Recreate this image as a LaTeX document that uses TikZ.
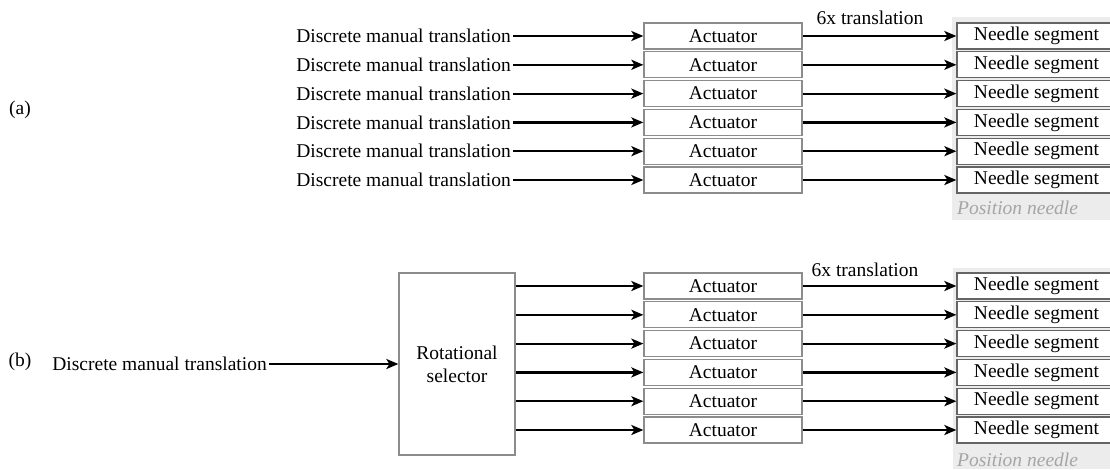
\documentclass[tikz,border=0pt]{standalone}
\usepackage{fontspec}
\setmainfont{Liberation Serif}
\usetikzlibrary{arrows.meta}
\definecolor{boxgrey}{RGB}{140,140,140}
\definecolor{needlegrey}{RGB}{100,100,100}
\definecolor{contfill}{RGB}{236,236,236}
\definecolor{postext}{RGB}{165,165,165}
\begin{document}
\begin{tikzpicture}[x=1pt,y=-1pt,
  txt/.style={font=\fontsize{19.5}{22}\selectfont, inner sep=2pt},
  actbox/.style={draw=boxgrey, line width=1.3pt, fill=white, minimum width=158pt,
    minimum height=26pt, inner sep=0pt, font=\fontsize{19.5}{22}\selectfont},
  needlebox/.style={draw=needlegrey, line width=1.3pt, fill=white, minimum width=159pt,
    minimum height=26pt, inner sep=0pt, font=\fontsize{19.5}{22}\selectfont},
  selbox/.style={draw=boxgrey, line width=1.3pt, fill=white, minimum width=116pt,
    minimum height=182pt, inner sep=0pt, align=center, font=\fontsize{19.5}{23}\selectfont},
  cont/.style={fill=contfill, draw=none},
  postxt/.style={font=\fontsize{19.5}{22}\selectfont\itshape, text=postext, inner sep=0pt, anchor=west},
  arr/.style={line width=2.2pt, -{Stealth[length=12pt,width=10pt,inset=3pt]}}
]
\useasboundingbox (0,0) rectangle (1110,469);

% ---------- (a) ----------
\node[txt] (la) at (20,110) {(a)};
\fill[cont] (952,17) rectangle (1120,220);
\node[postxt] (pna) at (957,208) {Position needle};
\node[txt] (ta) at (870,18) {6x translation};
\foreach \i in {1,...,6} {
  \pgfmathsetmacro\yy{36+28.8*(\i-1)}
  \node[actbox] (aa\i) at (723,\yy) {Actuator};
  \node[needlebox] (an\i) at (1036.5,\yy) {Needle segment};
  \node[txt, anchor=east] (ai\i) at (513,\yy) {Discrete manual translation};
  \draw[arr] (ai\i.east) -- (aa\i.west);
  \draw[arr] (aa\i.east) -- (an\i.west);
}

% ---------- (b) ----------
\node[txt] (lb) at (20,362) {(b)};
\node[txt, anchor=east] (bi) at (269,364) {Discrete manual translation};
\node[selbox] (sel) at (457,364) {Rotational\\selector};
\draw[arr] (bi.east) -- (sel.west);
\fill[cont] (953,268) rectangle (1120,469);
\node[postxt] (pnb) at (957,460) {Position needle};
\node[txt] (tb) at (865,270) {6x translation};
\foreach \i in {1,...,6} {
  \pgfmathsetmacro\yy{286+28.8*(\i-1)}
  \node[actbox] (ba\i) at (723,\yy) {Actuator};
  \node[needlebox] (bn\i) at (1036.5,\yy) {Needle segment};
  \draw[arr] (sel.east |- ba\i.west) -- (ba\i.west);
  \draw[arr] (ba\i.east) -- (bn\i.west);
}
\end{tikzpicture}
\end{document}
